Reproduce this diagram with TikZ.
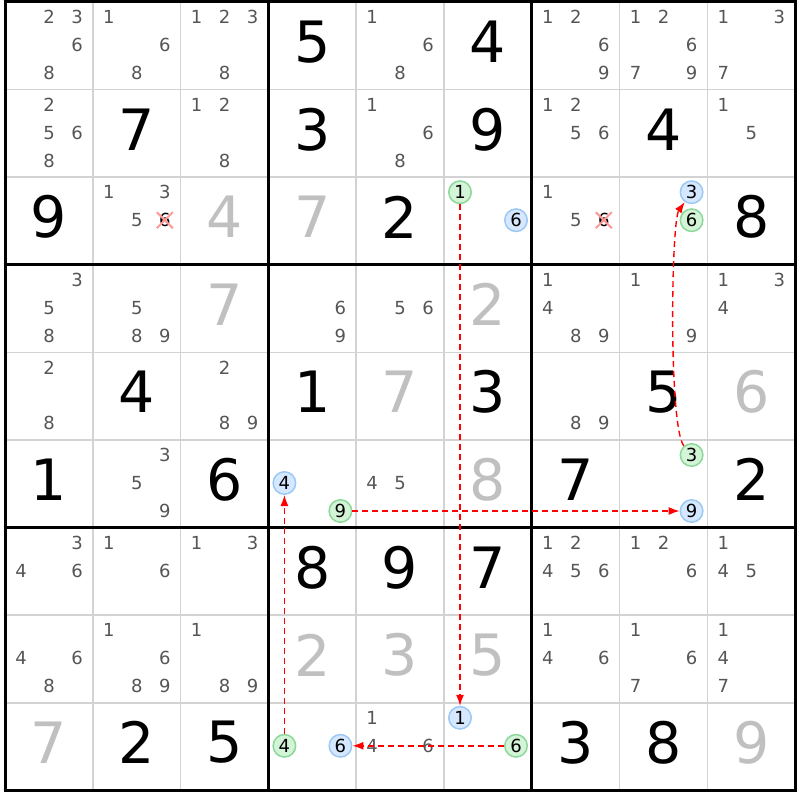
\documentclass[tikz,border=0pt]{standalone}
\usepackage{fontspec}
\setmainfont{DejaVu Sans}
\usepackage{tikz}
\usetikzlibrary{arrows.meta,shapes.misc}

\definecolor{candgray}{HTML}{555555}
\definecolor{solvedgray}{HTML}{C0C0C0}
\definecolor{gridgray}{HTML}{D3D3D3}
\definecolor{grfill}{HTML}{D4F4D8}
\definecolor{grline}{HTML}{8CD89A}
\definecolor{blfill}{HTML}{D6E8FF}
\definecolor{blline}{HTML}{9CC9F4}
\definecolor{linkred}{HTML}{FF0000}

% candidate p of cell (r,c), node named r<r>c<c>n<p>
\newcommand{\cand}[4][cand]{\node[#1] (r#2c#3n#4) at ({5+(#3-1)*87.8+16+28*mod(#4-1,3)}, {2+(#2-1)*87.6+15+28*int((#4-1)/3)}) {#4};}
\newcommand{\cands}[3]{\foreach \p in {#3} {\cand{#1}{#2}{\p}}}
% big digit of cell (r,c)
\newcommand{\celldigit}[4][given]{\node[#1] (r#2c#3) at ({5+(#3-0.5)*87.8}, {2+(#2-0.5)*87.6-4}) {#4};}

\begin{document}
\begin{tikzpicture}[x=1pt,y=-1pt]
\tikzset{cand/.style = {font=\fontsize{18}{18}\selectfont, text=candgray, inner sep=0pt}}
\tikzset{given/.style = {font=\fontsize{57}{57}\selectfont, text=black, inner sep=0pt}}
\tikzset{solved/.style = {given, text=solvedgray}}
\tikzset{ongreen/.style = {cand, text=black, shape=circle, draw=grline, fill=grfill, line width=1.5pt, minimum size=22.5pt}}
\tikzset{onblue/.style = {cand, text=black, shape=circle, draw=blline, fill=blfill, line width=1.5pt, minimum size=22.5pt}}
\tikzset{struck/.style = {cand, text=black, cross out, draw=red!40, line width=2pt, minimum size=14pt}}
\tikzset{link/.style = {->, >={Latex[length=11pt,width=8pt]}, draw=linkred, line width=1.4pt, dash pattern=on 6pt off 4pt}}
\useasboundingbox (0,0) rectangle (800,800);
% grid
\foreach \i in {0,...,9} {
  \draw[gridgray, line width=1.6pt] ({5+\i*87.8},2) -- ({5+\i*87.8},790.4);
  \draw[gridgray, line width=1.6pt] (5,{2+\i*87.6}) -- (795.2,{2+\i*87.6});
}
\foreach \i in {0,3,6,9} {
  \draw[black, line width=3pt] ({5+\i*87.8},0.5) -- ({5+\i*87.8},791.9);
  \draw[black, line width=3pt] (3.5,{2+\i*87.6}) -- (796.7,{2+\i*87.6});
}
% row 1
\cands{1}{1}{2,3,6,8}
\cands{1}{2}{1,6,8}
\cands{1}{3}{1,2,3,8}
\celldigit{1}{4}{5}
\cands{1}{5}{1,6,8}
\celldigit{1}{6}{4}
\cands{1}{7}{1,2,6,9}
\cands{1}{8}{1,2,6,7,9}
\cands{1}{9}{1,3,7}
% row 2
\cands{2}{1}{2,5,6,8}
\celldigit{2}{2}{7}
\cands{2}{3}{1,2,8}
\celldigit{2}{4}{3}
\cands{2}{5}{1,6,8}
\celldigit{2}{6}{9}
\cands{2}{7}{1,2,5,6}
\celldigit{2}{8}{4}
\cands{2}{9}{1,5}
% row 3
\celldigit{3}{1}{9}
\cands{3}{2}{1,3,5}
\cand[struck]{3}{2}{6}
\celldigit[solved]{3}{3}{4}
\celldigit[solved]{3}{4}{7}
\celldigit{3}{5}{2}
\cand[ongreen]{3}{6}{1}
\cand[onblue]{3}{6}{6}
\cands{3}{7}{1,5}
\cand[struck]{3}{7}{6}
\cand[onblue]{3}{8}{3}
\cand[ongreen]{3}{8}{6}
\celldigit{3}{9}{8}
% row 4
\cands{4}{1}{3,5,8}
\cands{4}{2}{5,8,9}
\celldigit[solved]{4}{3}{7}
\cands{4}{4}{6,9}
\cands{4}{5}{5,6}
\celldigit[solved]{4}{6}{2}
\cands{4}{7}{1,4,8,9}
\cands{4}{8}{1,9}
\cands{4}{9}{1,3,4}
% row 5
\cands{5}{1}{2,8}
\celldigit{5}{2}{4}
\cands{5}{3}{2,8,9}
\celldigit{5}{4}{1}
\celldigit[solved]{5}{5}{7}
\celldigit{5}{6}{3}
\cands{5}{7}{8,9}
\celldigit{5}{8}{5}
\celldigit[solved]{5}{9}{6}
% row 6
\celldigit{6}{1}{1}
\cands{6}{2}{3,5,9}
\celldigit{6}{3}{6}
\cand[onblue]{6}{4}{4}
\cand[ongreen]{6}{4}{9}
\cands{6}{5}{4,5}
\celldigit[solved]{6}{6}{8}
\celldigit{6}{7}{7}
\cand[ongreen]{6}{8}{3}
\cand[onblue]{6}{8}{9}
\celldigit{6}{9}{2}
% row 7
\cands{7}{1}{3,4,6}
\cands{7}{2}{1,6}
\cands{7}{3}{1,3}
\celldigit{7}{4}{8}
\celldigit{7}{5}{9}
\celldigit{7}{6}{7}
\cands{7}{7}{1,2,4,5,6}
\cands{7}{8}{1,2,6}
\cands{7}{9}{1,4,5}
% row 8
\cands{8}{1}{4,6,8}
\cands{8}{2}{1,6,8,9}
\cands{8}{3}{1,8,9}
\celldigit[solved]{8}{4}{2}
\celldigit[solved]{8}{5}{3}
\celldigit[solved]{8}{6}{5}
\cands{8}{7}{1,4,6}
\cands{8}{8}{1,6,7}
\cands{8}{9}{1,4,7}
% row 9
\celldigit[solved]{9}{1}{7}
\celldigit{9}{2}{2}
\celldigit{9}{3}{5}
\cand[ongreen]{9}{4}{4}
\cand[onblue]{9}{4}{6}
\cands{9}{5}{1,4,6}
\cand[onblue]{9}{6}{1}
\cand[ongreen]{9}{6}{6}
\celldigit{9}{7}{3}
\celldigit{9}{8}{8}
\celldigit[solved]{9}{9}{9}
% links
\draw[link] (r3c6n1) -- (r9c6n1);
\draw[link] (r9c6n6) -- (r9c4n6);
\draw[link] (r9c4n4) -- (r6c4n4);
\draw[link] (r6c4n9) -- (r6c8n9);
\draw[link] (r6c8n3) to[out=130, in=-125, looseness=0.25] (r3c8n3);
\end{tikzpicture}
\end{document}
